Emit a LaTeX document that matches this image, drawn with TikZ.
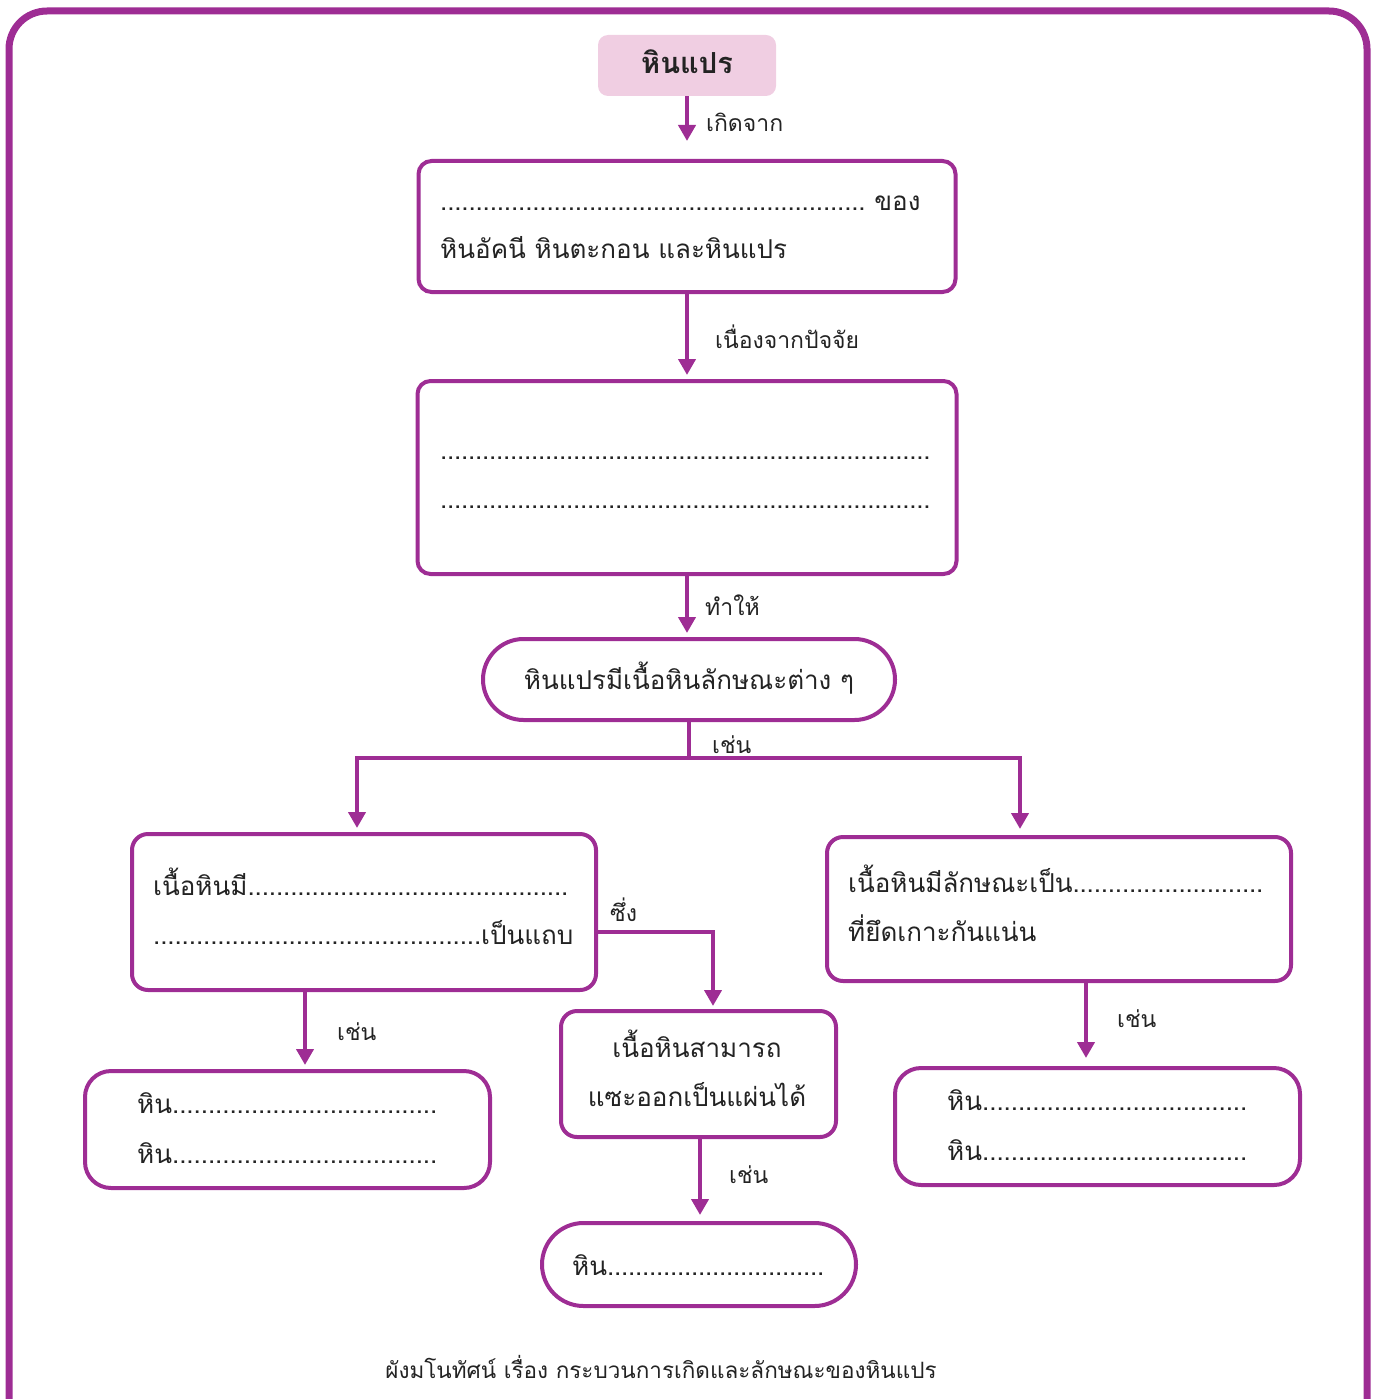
\documentclass[tikz,border=0pt]{standalone}
\usepackage{fontspec}
\setmainfont[Script=Thai]{Loma}
\usetikzlibrary{arrows.meta,shapes.misc}
\definecolor{pur}{RGB}{158,45,148}
\definecolor{pinkfill}{RGB}{240,206,226}
\definecolor{txt}{RGB}{35,35,35}
\newcommand\dline[3]{\hbox to #1pt{#2\xleaders\hbox to 7pt{\hss.\hss}\hfill#3}}
\begin{document}
\begin{tikzpicture}[x=1pt,y=-1pt,
  box/.style={draw=pur,line width=4pt,rounded corners=13pt,fill=white,inner sep=0pt},
  pillbox/.style={draw=pur,line width=4pt,rounded rectangle,fill=white,inner sep=0pt},
  conn/.style={draw=pur,line width=4pt},
  arr/.style={conn,-{Triangle[width=17pt,length=16pt]}},
  tx/.style={text=txt,inner sep=0pt,font=\fontsize{26}{32}\selectfont},
  lbl/.style={text=txt,inner sep=0pt,anchor=base west,font=\fontsize{23}{28}\selectfont}]
\useasboundingbox (0,0) rectangle (1379,1399);
\begin{scope}
\clip (0,0) rectangle (1379,1399);
\draw[pur,line width=7pt,rounded corners=38pt] (9,11) rectangle (1367,1470);
\end{scope}
% nodes
\node[fill=pinkfill,rounded corners=10pt,minimum width=178pt,minimum height=61pt,inner sep=0pt] (top) at (687,65.5) {};
\node[tx,anchor=base,font=\fontsize{29}{34}\selectfont\bfseries] (toptx) at (687,74) {หินแปร};
\node[box,minimum width=537pt,minimum height=131pt] (b1) at (687,226.5) {};
\node[box,minimum width=539pt,minimum height=193pt] (b2) at (687,477.5) {};
\node[pillbox,minimum width=412pt,minimum height=81pt] (p1) at (689,679.5) {};
\node[box,minimum width=464pt,minimum height=156pt,rounded corners=16pt] (bL) at (364,912) {};
\node[box,minimum width=275pt,minimum height=126pt,rounded corners=16pt] (bM) at (698.5,1074) {};
\node[pillbox,minimum width=314pt,minimum height=83pt] (pB) at (699,1264.5) {};
\node[box,minimum width=405pt,minimum height=117pt,rounded corners=26pt] (bLL) at (287.5,1129.5) {};
\node[box,minimum width=464pt,minimum height=144pt,rounded corners=16pt] (bR) at (1059,909) {};
\node[box,minimum width=405pt,minimum height=117pt,rounded corners=26pt] (bRR) at (1097.5,1126.5) {};
% texts
\node[tx,anchor=base west] (t1a) at (440,210) {\dline{480}{}{ ของ}};
\node[tx,anchor=base west] (t1b) at (440,258) {หินอัคนี หินตะกอน และหินแปร};
\node[tx,anchor=base west] (t2a) at (440,459) {\dline{490}{}{}};
\node[tx,anchor=base west] (t2b) at (440,508) {\dline{490}{}{}};
\node[tx,anchor=base] (tp1) at (689,689) {หินแปรมีเนื้อหินลักษณะต่าง ๆ};
\node[tx,anchor=base west] (tLa) at (153,895) {\dline{415}{เนื้อหินมี}{}};
\node[tx,anchor=base west] (tLb) at (153,944) {\dline{420}{}{เป็นแถบ}};
\node[tx,anchor=base west] (tRa) at (848,892) {\dline{415}{เนื้อหินมีลักษณะเป็น}{}};
\node[tx,anchor=base west] (tRb) at (848,941) {ที่ยึดเกาะกันแน่น};
\node[tx,anchor=base] (tMa) at (697,1057) {เนื้อหินสามารถ};
\node[tx,anchor=base] (tMb) at (697,1106) {แซะออกเป็นแผ่นได้};
\node[tx,anchor=base west] (tLLa) at (137,1113) {\dline{300}{หิน}{}};
\node[tx,anchor=base west] (tLLb) at (137,1163) {\dline{300}{หิน}{}};
\node[tx,anchor=base west] (tRRa) at (947,1110) {\dline{300}{หิน}{}};
\node[tx,anchor=base west] (tRRb) at (947,1160) {\dline{300}{หิน}{}};
\node[tx,anchor=base west] (tpB) at (572,1275) {\dline{252}{หิน}{}};
% connectors
\coordinate (fork) at (689,758);
\draw[arr,shorten >=18pt] (top.south) -- (b1.north);
\draw[arr,shorten >=4pt] (b1.south) -- (b2.north);
\draw[arr,shorten >=4pt] (b2.south) -- (b2.south |- p1.north);
\draw[conn] (p1.south) -- (fork);
\draw[arr,shorten >=4pt] (fork) -| ([xshift=-7pt]bL.north);
\draw[arr,shorten >=6pt] (fork) -| ([xshift=-39pt]bR.north);
\draw[arr,shorten >=3pt] ([yshift=-20pt]bL.east) -| ([xshift=14.5pt]bM.north);
\draw[arr,shorten >=4pt] (bL.south -| 305,0) -- (bLL.north -| 305,0);
\draw[arr,shorten >=6pt] (bM.south -| 700,0) -- (pB.north -| 700,0);
\draw[arr,shorten >=8pt] (bR.south -| 1086,0) -- (bRR.north -| 1086,0);
% labels
\node[lbl] (l1) at (706,132) {เกิดจาก};
\node[lbl] (l2) at (715,348) {เนื่องจากปัจจัย};
\node[lbl] (l3) at (705,615) {ทำให้};
\node[lbl] (l4) at (712,753) {เช่น};
\node[lbl] (l5) at (610,921) {ซึ่ง};
\node[lbl] (l6) at (337,1040) {เช่น};
\node[lbl] (l7) at (729,1183) {เช่น};
\node[lbl] (l8) at (1117,1027) {เช่น};
\node[lbl,anchor=base,font=\fontsize{22.5}{28}\selectfont] (cap) at (661,1378) {ผังมโนทัศน์ เรื่อง กระบวนการเกิดและลักษณะของหินแปร};
\end{tikzpicture}
\end{document}
